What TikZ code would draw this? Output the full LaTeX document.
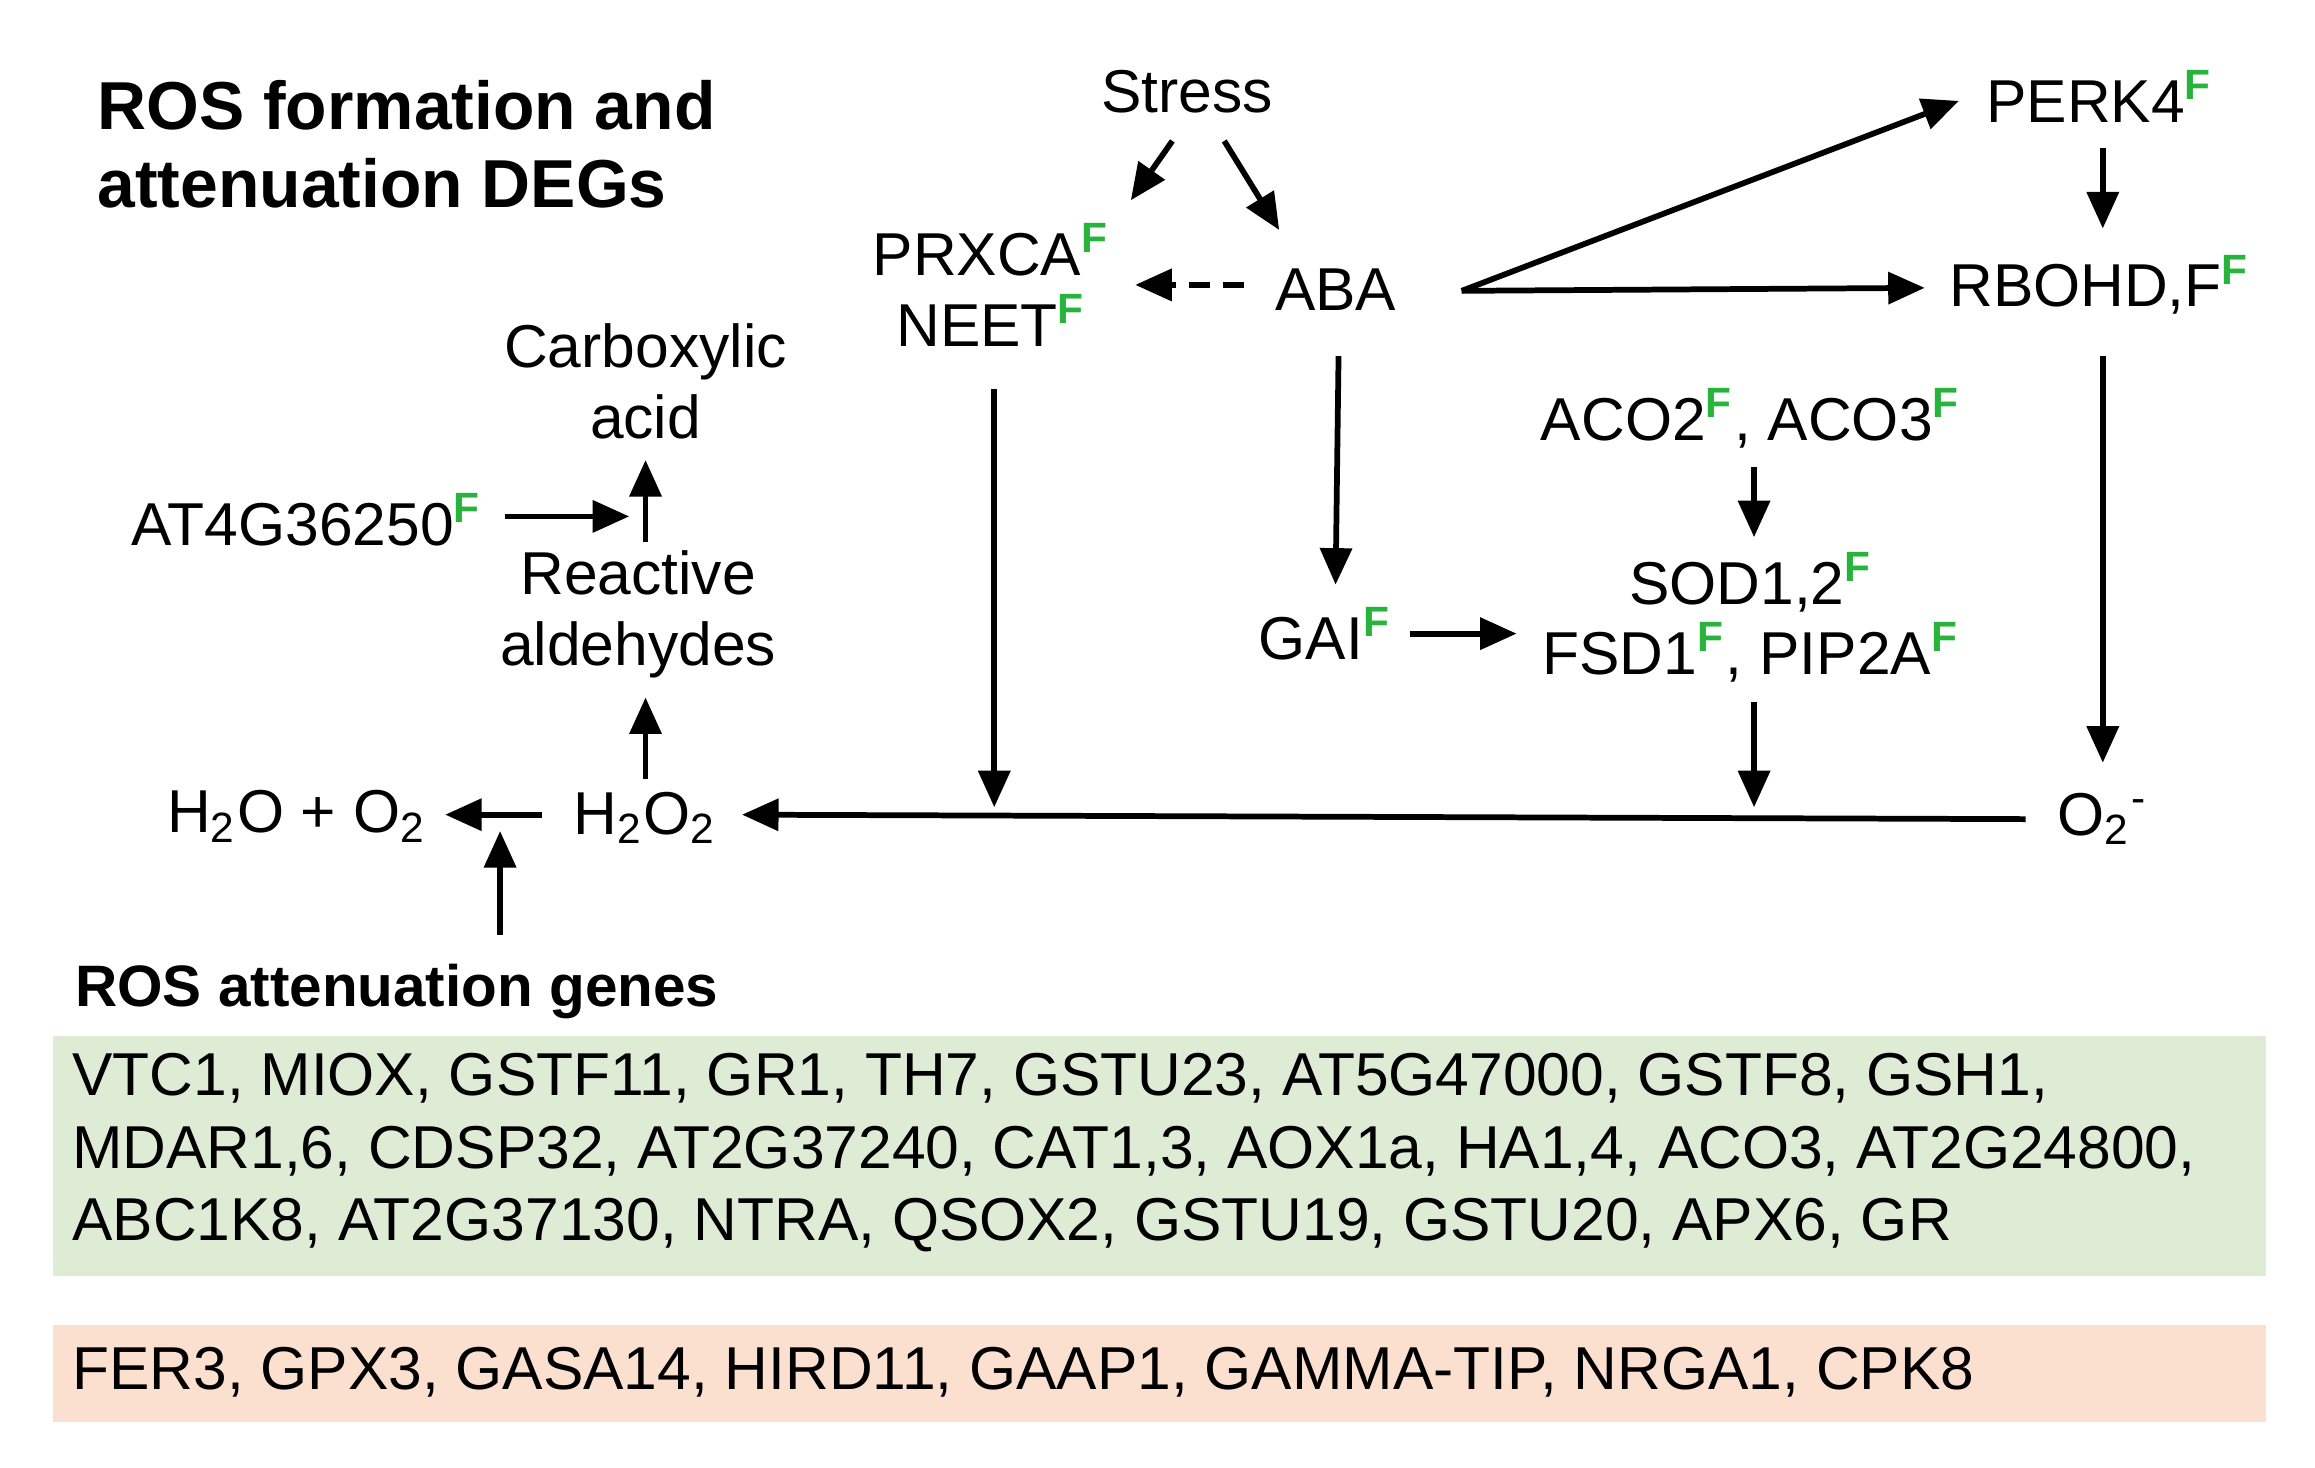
\documentclass[tikz,border=0pt]{standalone}
\usepackage{fontspec}
\setmainfont{Liberation Sans}
\usetikzlibrary{arrows.meta}
\definecolor{fgreen}{RGB}{40,180,60}
\definecolor{boxgreen}{RGB}{222,236,214}
\definecolor{boxorange}{RGB}{251,224,208}
\newcommand{\Fs}{\textsuperscript{\textbf{\color{fgreen}F}}}
\begin{document}
\begin{tikzpicture}[x=0.01cm,y=-0.01cm,
  lbl/.style={inner sep=0pt,font=\fontsize{11.6}{13.5}\selectfont,align=center},
  ttl/.style={inner sep=0pt,font=\fontsize{13}{16}\bfseries\selectfont,align=left,anchor=west},
  arr/.style={-{Triangle[length=7pt,width=6pt]},line width=1.1pt}]
\useasboundingbox (0,0) rectangle (1560,989);
\fill[boxgreen] (36,698) rectangle (1527,860);
\fill[boxorange] (36,893) rectangle (1527,958);
\node[ttl] (title) at (65,97) {ROS formation and\\[-1pt]attenuation DEGs};
\node[lbl] (stress) at (800,62) {Stress};
\node[lbl] (prx) at (668,192) {PRXCA\Fs\\NEET\Fs};
\node[lbl] (aba) at (900,195) {ABA};
\node[lbl] (perk) at (1415,65) {PERK4\Fs};
\node[lbl] (rboh) at (1415,192) {RBOHD,F\Fs};
\node[lbl] (carb) at (435,257) {Carboxylic\\acid};
\node[lbl] (at4) at (207,350) {AT4G36250\Fs};
\node[lbl] (reac) at (430,414) {Reactive\\aldehydes};
\node[lbl] (aco) at (1180,282) {ACO2\Fs, ACO3\Fs};
\node[lbl] (sod) at (1180,416) {SOD1,2\Fs\\FSD1\Fs, PIP2A\Fs};
\node[lbl] (gai) at (893,427) {GAI\Fs};
\node[lbl] (h2o) at (200,550) {H\textsubscript{2}O + O\textsubscript{2}};
\node[lbl] (h2o2) at (435,551) {H\textsubscript{2}O\textsubscript{2}};
\node[lbl] (o2) at (1417,552) {O\textsubscript{2}\textsuperscript{-}};
\node[ttl,font=\fontsize{11.2}{14}\bfseries\selectfont] (rag) at (50,668) {ROS attenuation genes};
\node[lbl,anchor=west,align=left,font=\fontsize{11.6}{13.9}\selectfont] (gl) at (48,777) {VTC1, MIOX, GSTF11, GR1, TH7, GSTU23, AT5G47000, GSTF8, GSH1,\\MDAR1,6, CDSP32, AT2G37240, CAT1,3, AOX1a, HA1,4, ACO3, AT2G24800,\\ABC1K8, AT2G37130, NTRA, QSOX2, GSTU19, GSTU20, APX6, GR};
\node[lbl,anchor=west] (ol) at (48,925) {FER3, GPX3, GASA14, HIRD11, GAAP1, GAMMA-TIP, NRGA1, CPK8};
% connector endpoints
\coordinate (s1) at (790,95); \coordinate (s1e) at (762,135);
\coordinate (s2) at (825,95); \coordinate (s2e) at (862,155);
\coordinate (a0) at (838,192); \coordinate (a0e) at (765,192);
\coordinate (a1) at (985,196); \coordinate (a1e) at (1320,68); \coordinate (a2e) at (1297,194);
\coordinate (p1) at (1417,100); \coordinate (p1e) at (1417,154);
\coordinate (r1) at (1417,240); \coordinate (r1e) at (1417,514);
\coordinate (a3) at (902,240); \coordinate (a3e) at (900,394);
\coordinate (g1) at (950,427); \coordinate (g1e) at (1022,427);
\coordinate (c1) at (1182,315); \coordinate (c1e) at (1182,362);
\coordinate (d1) at (1182,473); \coordinate (d1e) at (1182,544);
\coordinate (n1) at (670,262); \coordinate (n1e) at (670,544);
\coordinate (o1) at (1365,552); \coordinate (o1e) at (500,549);
\coordinate (h1) at (365,549); \coordinate (h1e) at (300,549);
\coordinate (b1) at (337,630); \coordinate (b1e) at (337,560);
\coordinate (h2) at (435,525); \coordinate (h2e) at (435,470);
\coordinate (q1) at (435,365); \coordinate (q1e) at (435,310);
\coordinate (t1) at (340,348); \coordinate (t1e) at (424,348);
\draw[arr] (s1) -- (s1e);
\draw[arr] (s2) -- (s2e);
\draw[arr,dash pattern=on 4pt off 2.5pt] (a0) -- (a0e);
\draw[arr] (a1) -- (a1e);
\draw[arr] (a1) -- (a2e);
\draw[arr] (p1) -- (p1e);
\draw[arr] (r1) -- (r1e);
\draw[arr] (a3) -- (a3e);
\draw[arr] (g1) -- (g1e);
\draw[arr] (c1) -- (c1e);
\draw[arr] (d1) -- (d1e);
\draw[arr] (n1) -- (n1e);
\draw[arr] (o1) -- (o1e);
\draw[arr] (h1) -- (h1e);
\draw[arr] (b1) -- (b1e);
\draw[arr] (h2) -- (h2e);
\draw[arr] (q1) -- (q1e);
\draw[arr] (t1) -- (t1e);
\end{tikzpicture}
\end{document}
